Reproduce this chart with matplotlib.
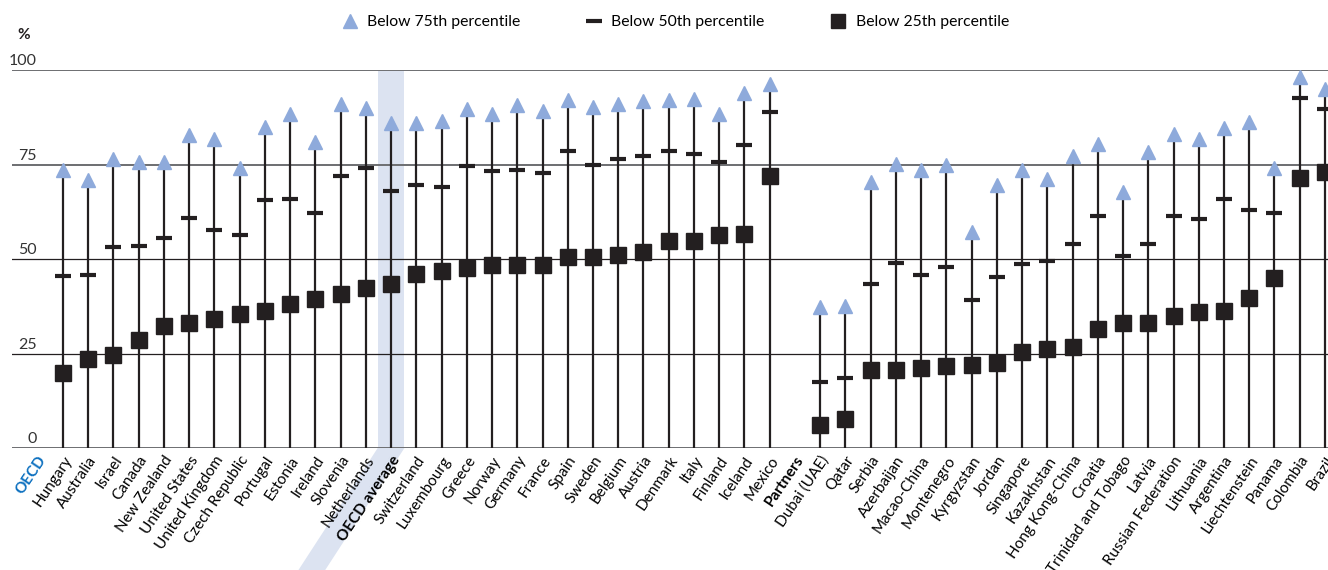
import numpy as np
import matplotlib
matplotlib.use('Agg')
import matplotlib.pyplot as plt
from matplotlib.lines import Line2D
from matplotlib.patches import Polygon

plt.rcParams['font.family'] = ['Lato', 'DejaVu Sans']

countries = ['OECD', 'Hungary', 'Australia', 'Israel', 'Canada', 'New Zealand', 'United States',
             'United Kingdom', 'Czech Republic', 'Portugal', 'Estonia', 'Ireland', 'Slovenia',
             'Netherlands', 'OECD average', 'Switzerland', 'Luxembourg', 'Greece', 'Norway',
             'Germany', 'France', 'Spain', 'Sweden', 'Belgium', 'Austria', 'Denmark', 'Italy',
             'Finland', 'Iceland', 'Mexico', 'Partners', 'Dubai (UAE)', 'Qatar', 'Serbia',
             'Azerbaijan', 'Macao-China', 'Montenegro', 'Kyrgyzstan', 'Jordan', 'Singapore',
             'Kazakhstan', 'Hong Kong-China', 'Croatia', 'Trinidad and Tobago', 'Latvia',
             'Russian Federation', 'Lithuania', 'Argentina', 'Liechtenstein', 'Panama',
             'Colombia', 'Brazil']

nan = np.nan
below75 = [nan, 73.5, 70.9, 76.4, 75.8, 75.8, 82.8, 81.9, 74.0, 85.0, 88.4, 81.1, 91.0, 89.9,
           86.1, 86.1, 86.6, 89.6, 88.4, 90.7, 89.2, 92.1, 90.3, 91.0, 91.7, 92.1, 92.4, 88.4,
           94.0, 96.3, nan, 37.2, 37.6, 70.4, 75.1, 73.7, 74.8, 57.1, 69.5, 73.7, 71.1, 77.4,
           80.4, 67.7, 78.3, 83.1, 81.7, 84.7, 86.4, 74.0, 98.1, 94.9]
below50 = [nan, 45.4, 45.7, 53.1, 53.4, 55.7, 60.8, 57.6, 56.3, 65.5, 65.8, 62.1, 72.1, 74.0,
           67.9, 69.5, 69.2, 74.6, 73.2, 73.7, 72.7, 78.5, 74.8, 76.4, 77.2, 78.5, 77.7, 75.6,
           80.1, 88.8, nan, 17.6, 18.4, 43.3, 48.9, 45.9, 47.8, 39.3, 45.2, 48.6, 49.6, 54.1,
           61.3, 50.7, 54.1, 61.3, 60.5, 65.8, 62.9, 62.1, 92.5, 89.6]
below25 = [nan, 19.9, 23.5, 24.6, 28.7, 32.4, 33.1, 34.1, 35.5, 36.3, 38.1, 39.4, 40.7, 42.4,
           43.5, 46.1, 46.9, 47.7, 48.4, 48.4, 48.4, 50.6, 50.6, 51.1, 51.9, 54.8, 54.8, 56.4,
           56.7, 72.0, nan, 6.2, 7.8, 20.7, 20.7, 21.2, 21.8, 22.0, 22.6, 25.5, 26.3, 26.6,
           31.6, 33.2, 33.2, 35.0, 36.1, 36.3, 39.8, 45.1, 71.5, 73.1]

ink = '#231f20'
blue = '#8eaadb'
band = '#dce3f1'

fig = plt.figure(figsize=(13.28, 5.70), dpi=100)
ax = fig.add_axes([0.009, 0.214, 0.991, 0.663])
ax.patch.set_visible(False)
x = np.arange(len(countries))
ax.set_xlim(-1.02, 51.12)
ax.set_ylim(0, 100)

# highlight band for the OECD average, running on under its label
ia = countries.index('OECD average')
ax.axvspan(ia - 0.53, ia + 0.53, color=band, zorder=0, lw=0)
fig.canvas.draw()
to_fig = fig.transFigure.inverted()
pl = ax.transData.transform((ia - 0.53, 0))
pr = ax.transData.transform((ia + 0.53, 0))
drop = pl[1] + 5
shift = drop / np.tan(np.radians(57))
pts = [pl, pr, (pr[0] - shift, pr[1] - drop), (pl[0] - shift, pl[1] - drop)]
fig.patches.append(Polygon(to_fig.transform(pts), closed=True, color=band, lw=0,
                           transform=fig.transFigure, zorder=-1))

for v, c, w in [(100, '#6d6e71', 1.4), (75, '#6d6e71', 1.4), (50, ink, 0.9), (25, ink, 0.9),
                (0, '#6d6e71', 1.4)]:
    ax.axhline(v, color=c, lw=w, zorder=1)

for xi, top in zip(x, below75):
    if not np.isnan(top):
        ax.plot([xi, xi], [0, top], color=ink, lw=1.6, zorder=2)

ax.plot(x, below75, ls='none', marker='^', ms=10, color=blue, mec=blue, zorder=3, clip_on=False)
ax.plot(x, below50, ls='none', marker='_', ms=12, mew=3, color=ink, zorder=3)
ax.plot(x, below25, ls='none', marker='s', ms=11, color=ink, zorder=3)

for s in ax.spines.values():
    s.set_visible(False)
ax.set_yticks([])
ax.set_xticks(x)
ax.set_xticklabels(countries, rotation=56, ha='right', va='top', rotation_mode='anchor',
                   fontsize=11)
ax.tick_params(axis='x', length=0, pad=4)
for lab in ax.get_xticklabels():
    if lab.get_text() == 'OECD':
        lab.set_color('#0b6fbf')
        lab.set_fontweight('bold')
    elif lab.get_text() in ('Partners', 'OECD average'):
        lab.set_fontweight('bold')

for v in [0, 25, 50, 75, 100]:
    ax.text(0.019, v + 2.3, str(v), transform=ax.get_yaxis_transform(), ha='right',
            va='center', fontsize=11.5, color='#333333')
fig.text(0.013, 0.938, '%', fontsize=11, fontweight='bold', color=ink, va='center')

handles = [Line2D([], [], ls='none', marker='^', ms=10, color=blue),
           Line2D([], [], ls='none', marker='_', ms=12, mew=3, color=ink),
           Line2D([], [], ls='none', marker='s', ms=10, color=ink)]
fig.legend(handles, ['Below 75th percentile', 'Below 50th percentile', 'Below 25th percentile'],
           loc='center', bbox_to_anchor=(0.508, 0.961), ncol=3, frameon=False, fontsize=11.3,
           handletextpad=0.5, columnspacing=4.1, handlelength=1.2)

fig.savefig('out.png', dpi=100)
